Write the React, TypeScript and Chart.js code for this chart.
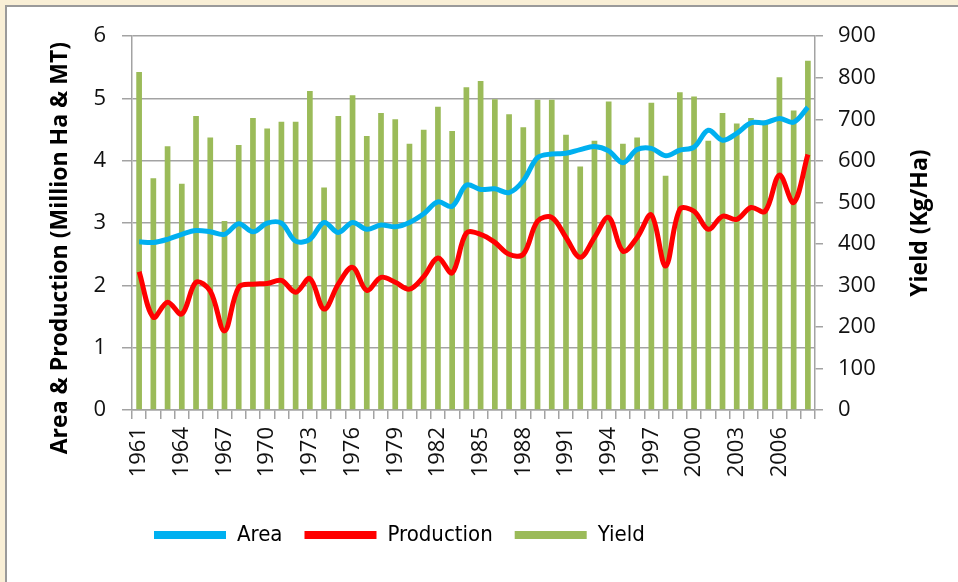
import React, { useEffect, useRef } from "react";
import { Chart, registerables } from "chart.js";

Chart.register(...registerables);

const years = [
  "1961", "1962", "1963", "1964", "1965", "1966", "1967", "1968", "1969", "1970",
  "1971", "1972", "1973", "1974", "1975", "1976", "1977", "1978", "1979", "1980",
  "1981", "1982", "1983", "1984", "1985", "1986", "1987", "1988", "1989", "1990",
  "1991", "1992", "1993", "1994", "1995", "1996", "1997", "1998", "1999", "2000",
  "2001", "2002", "2003", "2004", "2005", "2006", "2007", "2008",
];

// Million Ha
const area = [
  2.70, 2.69, 2.74, 2.82, 2.88, 2.86, 2.82, 2.99, 2.86, 3.00,
  3.00, 2.71, 2.74, 3.01, 2.85, 3.01, 2.90, 2.97, 2.94, 3.01,
  3.15, 3.34, 3.27, 3.61, 3.54, 3.55, 3.49, 3.68, 4.05, 4.11,
  4.12, 4.18, 4.23, 4.16, 3.97, 4.18, 4.20, 4.08, 4.17, 4.22,
  4.49, 4.33, 4.44, 4.61, 4.61, 4.68, 4.62, 4.86,
];

// Million MT
const production = [
  2.22, 1.49, 1.73, 1.54, 2.05, 1.91, 1.27, 1.97, 2.02, 2.03,
  2.08, 1.89, 2.11, 1.62, 2.02, 2.29, 1.92, 2.13, 2.05, 1.94,
  2.14, 2.44, 2.20, 2.84, 2.82, 2.69, 2.50, 2.50, 3.03, 3.09,
  2.77, 2.45, 2.77, 3.09, 2.55, 2.77, 3.13, 2.31, 3.22, 3.19,
  2.90, 3.11, 3.06, 3.25, 3.19, 3.77, 3.33, 4.10,
];

// Kg/Ha
const yieldKg = [
  814, 558, 635, 545, 708, 656, 455, 638, 703, 678,
  694, 694, 768, 536, 708, 758, 660, 715, 700, 641,
  675, 730, 672, 777, 792, 748, 712, 681, 747, 747,
  663, 586, 648, 743, 641, 656, 740, 564, 765, 755,
  648, 715, 690, 703, 697, 801, 721, 841,
];

const leftTitle = "Area & Production (Million Ha & MT)";
const rightTitle = "Yield (Kg/Ha)";

const GRID = "#a3a3a3";
const TICK_FONT = { family: '"Open Sans", sans-serif', size: 22 };
const TICK_COLOR = "#111";

const axisTitles = {
  id: "axisTitles",
  afterDraw(chart: any) {
    const { ctx, chartArea } = chart;
    const mid = (chartArea.top + chartArea.bottom) / 2;
    ctx.save();
    ctx.font = 'bold 23px "Open Sans", sans-serif';
    ctx.fillStyle = "#000";
    ctx.textAlign = "center";
    ctx.textBaseline = "middle";
    const yl = chart.scales.y;
    ctx.save();
    ctx.translate(yl.left + 53, mid + 25);
    ctx.rotate(-Math.PI / 2);
    ctx.fillText(leftTitle, 0, 0);
    ctx.restore();
    const yr = chart.scales.y1;
    ctx.save();
    ctx.translate(yr.left + 105, mid);
    ctx.rotate(-Math.PI / 2);
    ctx.fillText(rightTitle, 0, 0);
    ctx.restore();
    ctx.restore();
  },
};

export default function App() {
  const ref = useRef<HTMLCanvasElement>(null);

  useEffect(() => {
    if (!ref.current) return;
    const chart = new Chart(ref.current, {
      type: "bar",
      data: {
        labels: years,
        datasets: [
          {
            type: "line",
            label: "Area",
            data: area,
            yAxisID: "y",
            borderColor: "#00b0f0",
            backgroundColor: "#00b0f0",
            borderWidth: 5,
            pointRadius: 0,
            tension: 0.35,
          },
          {
            type: "line",
            label: "Production",
            data: production,
            yAxisID: "y",
            borderColor: "#ff0000",
            backgroundColor: "#ff0000",
            borderWidth: 5,
            pointRadius: 0,
            tension: 0.35,
          },
          {
            type: "bar",
            label: "Yield",
            data: yieldKg,
            yAxisID: "y1",
            backgroundColor: "#9bbb59",
            borderColor: "#9bbb59",
            borderWidth: 0,
            barPercentage: 0.4,
            categoryPercentage: 1,
          },
        ],
      } as any,
      options: {
        animation: false,
        responsive: false,
        maintainAspectRatio: false,
        layout: { padding: { top: 28, bottom: 26, left: 0, right: 0 } },
        plugins: {
          tooltip: { enabled: false },
          legend: {
            position: "bottom",
            align: "start",
            fullSize: false,
            labels: {
              boxWidth: 72,
              boxHeight: 8,
              padding: 22,
              color: "#000",
              font: { family: '"Liberation Sans Narrow", "DejaVu Sans Condensed", sans-serif', size: 22 },
              generateLabels: (chart: any) =>
                Chart.defaults.plugins.legend.labels
                  .generateLabels(chart)
                  .map((l: any) => ({ ...l, fillStyle: l.strokeStyle, lineWidth: 0 })),
            },
          },
        },
        scales: {
          x: {
            grid: {
              display: true,
              drawOnChartArea: false,
              drawTicks: true,
              tickLength: 9,
              color: GRID,
              lineWidth: 1.5,
              offset: true,
            },
            border: { color: GRID, width: 1.5 },
            ticks: {
              autoSkip: false,
              minRotation: 90,
              maxRotation: 90,
              padding: 8,
              font: TICK_FONT,
              color: TICK_COLOR,
              callback: (_v: any, i: number) => (i % 3 === 0 ? years[i] : ""),
            },
            afterFit: (s: any) => {
              s.height = 92;
            },
          },
          y: {
            position: "left",
            min: 0,
            max: 6,
            grid: { color: GRID, lineWidth: 1.5, tickLength: 10, drawTicks: true },
            border: { color: GRID, width: 1.5 },
            ticks: { stepSize: 1, padding: 16, font: TICK_FONT, color: TICK_COLOR },
            afterFit: (s: any) => {
              s.width = 125;
            },
          },
          y1: {
            position: "right",
            min: 0,
            max: 900,
            grid: { drawOnChartArea: false, color: GRID, lineWidth: 1.5, tickLength: 8, drawTicks: true },
            border: { color: GRID, width: 1.5 },
            ticks: { stepSize: 100, padding: 15, font: TICK_FONT, color: TICK_COLOR },
            afterFit: (s: any) => {
              s.width = 143;
            },
          },
        },
      } as any,
      plugins: [axisTitles],
    });
    return () => chart.destroy();
  }, []);

  return (
    <div
      style={{
        position: "fixed",
        left: 0,
        top: 0,
        width: 958,
        height: 582,
        background: "#f9efd6",
        overflow: "hidden",
      }}
    >
      <div
        style={{
          position: "absolute",
          left: 5,
          top: 5,
          width: 953,
          height: 577,
          boxSizing: "border-box",
          background: "#ffffff",
          borderLeft: "2px solid #9a9a9a",
          borderTop: "2px solid #9a9a9a",
        }}
      >
        <canvas ref={ref} width={951} height={575} style={{ display: "block", width: 951, height: 575 }} />
      </div>
    </div>
  );
}
